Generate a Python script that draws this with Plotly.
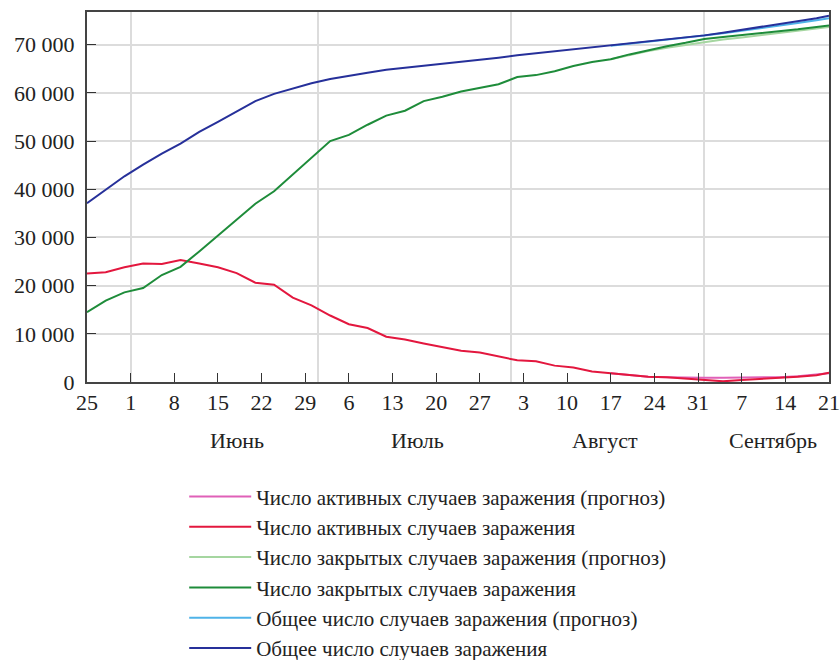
import plotly.graph_objects as go

dates = ["2020-05-25", "2020-05-28", "2020-05-31", "2020-06-03", "2020-06-06", "2020-06-09",
         "2020-06-12", "2020-06-15", "2020-06-18", "2020-06-21", "2020-06-24", "2020-06-27",
         "2020-06-30", "2020-07-03", "2020-07-06", "2020-07-09", "2020-07-12", "2020-07-15",
         "2020-07-18", "2020-07-21", "2020-07-24", "2020-07-27", "2020-07-30", "2020-08-02",
         "2020-08-05", "2020-08-08", "2020-08-11", "2020-08-14", "2020-08-17", "2020-08-20",
         "2020-08-23", "2020-08-26", "2020-08-29", "2020-09-01", "2020-09-04", "2020-09-07",
         "2020-09-10", "2020-09-13", "2020-09-16", "2020-09-19", "2020-09-21"]

total = [37100, 39900, 42700, 45100, 47400, 49500, 51900, 54000, 56200, 58300, 59800, 60900,
         62000, 62900, 63600, 64200, 64800, 65200, 65700, 66100, 66500, 66900, 67300, 67800,
         68200, 68600, 69000, 69400, 69800, 70200, 70600, 71000, 71500, 71950, 72500, 73100,
         73700, 74200, 74800, 75500, 76000]

closed = [14500, 16900, 18600, 19500, 22200, 23900, 27100, 30400, 33600, 37000, 39600, 43000,
          46600, 50000, 51300, 53400, 55300, 56300, 58300, 59200, 60300, 61000, 61800, 63300,
          63700, 64500, 65600, 66400, 67000, 68000, 68900, 69700, 70400, 71200, 71600, 72000,
          72300, 72700, 73200, 73700, 74000]

active = [22500, 22800, 23800, 24600, 24500, 25300, 24600, 23800, 22600, 20600, 20200, 17500,
          15900, 13800, 12000, 11200, 9400, 8800, 8000, 7200, 6500, 6100, 5300, 4500,
          4300, 3400, 3000, 2200, 1800, 1400, 1100, 1000, 700, 500, 150, 400,
          600, 800, 1100, 1400, 1900]

fc_dates = ["2020-08-17", "2020-08-20", "2020-08-23", "2020-08-26", "2020-08-29", "2020-09-01",
            "2020-09-04", "2020-09-07", "2020-09-10", "2020-09-13", "2020-09-16", "2020-09-19",
            "2020-09-21"]
active_fc = [1800, 1400, 1100, 1000, 900, 900, 900, 900, 950, 1000, 1200, 1500, 1800]
closed_fc = [67000, 67900, 68700, 69400, 70000, 70600, 71100, 71500, 72000, 72500, 73000, 73400, 73700]
total_fc = [69800, 70200, 70600, 71000, 71500, 71900, 72400, 72900, 73400, 73900, 74500, 75100, 75500]

names = ["Число активных случаев заражения (прогноз)",
         "Число активных случаев заражения",
         "Число закрытых случаев заражения (прогноз)",
         "Число закрытых случаев заражения",
         "Общее число случаев заражения (прогноз)",
         "Общее число случаев заражения"]

tick_dates = ["2020-05-25", "2020-06-01", "2020-06-08", "2020-06-15", "2020-06-22", "2020-06-29",
              "2020-07-06", "2020-07-13", "2020-07-20", "2020-07-27", "2020-08-03", "2020-08-10",
              "2020-08-17", "2020-08-24", "2020-08-31", "2020-09-07", "2020-09-14", "2020-09-21"]
tick_text = ["25", "1", "8", "15", "22", "29", "6", "13", "20", "27", "3", "10", "17", "24",
             "31", "7", "14", "21"]
month_starts = ["2020-06-01", "2020-07-01", "2020-08-01", "2020-09-01"]
month_names = ["Июнь", "Июль", "Август", "Сентябрь"]
month_label_pos = ["2020-06-18", "2020-07-17", "2020-08-16", "2020-09-12"]

y_ticks = [0, 10000, 20000, 30000, 40000, 50000, 60000, 70000]
y_text = ["0", "10 000", "20 000", "30 000", "40 000", "50 000", "60 000", "70 000"]

FONT = "Liberation Serif"

fig = go.Figure()
series = [
    (fc_dates, active_fc, "#e060b8"),
    (dates, active, "#e3173e"),
    (fc_dates, closed_fc, "#a5d6a0"),
    (dates, closed, "#1e8c3a"),
    (fc_dates, total_fc, "#4fb3e8"),
    (dates, total, "#26309a"),
]
for (x, y, c), n in zip(series, names):
    fig.add_trace(go.Scatter(x=x, y=y, mode="lines", name=n,
                             line=dict(color=c, width=2)))

for m, p in zip(month_names, month_label_pos):
    fig.add_annotation(x=p, y=-0.157, xref="x", yref="paper", text=m, showarrow=False,
                       font=dict(family=FONT, size=22, color="#222"), yanchor="middle")

fig.update_layout(
    width=840, height=660,
    margin=dict(l=87, r=11, t=12, b=278, autoexpand=False),
    paper_bgcolor="white", plot_bgcolor="white",
    font=dict(family=FONT, size=22, color="#222"),
    showlegend=True,
    legend=dict(x=0.131, y=-0.255, xanchor="left", yanchor="top",
                font=dict(family=FONT, size=21, color="#222"),
                bgcolor="rgba(0,0,0,0)", itemwidth=62),
    xaxis=dict(range=["2020-05-25", "2020-09-21"], tickmode="array", tickvals=tick_dates,
               ticktext=tick_text, ticks="inside", ticklen=9, tickcolor="#333", tickwidth=1,
               showgrid=False, showline=True, linecolor="#444", linewidth=2, mirror=True,
               minor=dict(tickmode="array", tickvals=month_starts, showgrid=True,
                          gridcolor="#dcdcdc", gridwidth=2, ticklen=0),
               zeroline=False, tickfont=dict(family=FONT, size=22, color="#222")),
    yaxis=dict(range=[0, 76800], tickmode="array", tickvals=y_ticks, ticktext=y_text,
               ticks="inside", ticklen=9, tickcolor="#333", showgrid=True,
               gridcolor="#dcdcdc", gridwidth=2, showline=True, linecolor="#444",
               linewidth=2, mirror=True, zeroline=False, ticklabelstandoff=6,
               tickfont=dict(family=FONT, size=22, color="#222")),
)

fig.write_html("out.html", config={"displayModeBar": False},
               post_script="document.body.style.margin='0';document.body.style.overflow='hidden';")
